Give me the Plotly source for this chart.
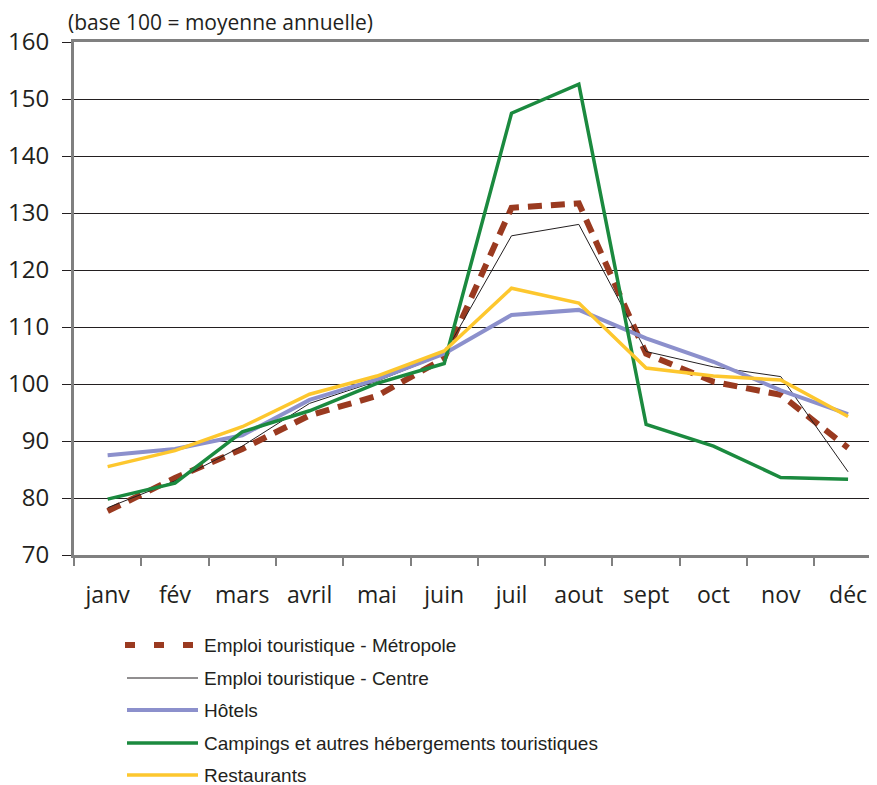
import plotly.graph_objects as go

months = ["janv", "fév", "mars", "avril", "mai", "juin", "juil", "aout", "sept", "oct", "nov", "déc"]
metropole = [77.7, 83.5, 88.6, 94.5, 97.9, 104.5, 130.9, 131.7, 105.3, 100.4, 98.1, 88.8]
centre = [78.3, 83.0, 89.1, 96.6, 100.5, 105.2, 126.0, 128.0, 105.7, 103.0, 101.3, 84.6]
hotels = [87.5, 88.6, 91.0, 97.2, 100.8, 105.3, 112.1, 113.0, 108.0, 103.9, 98.9, 94.7]
campings = [79.8, 82.6, 91.6, 95.3, 100.1, 103.6, 147.5, 152.6, 92.9, 89.1, 83.6, 83.3]
restaurants = [85.5, 88.3, 92.5, 98.2, 101.4, 105.8, 116.8, 114.2, 102.8, 101.4, 100.7, 94.3]
y_ticks = [70, 80, 90, 100, 110, 120, 130, 140, 150, 160]

series = [
    ("Emploi touristique - Métropole", metropole, "#9a3a20", 6, "14px,9px"),
    ("Emploi touristique - Centre", centre, "#231f20", 1, "solid"),
    ("Hôtels", hotels, "#8c90cc", 4, "solid"),
    ("Campings et autres hébergements touristiques", campings, "#1b8a3f", 3.5, "solid"),
    ("Restaurants", restaurants, "#fdc72e", 3.5, "solid"),
]

# page has an 8px body margin; target coordinates are page pixels
OFF = 8
W, H = 877 - OFF, 785 - OFF
ML, MR, MT = 74 - OFF, 0, 42 - OFF
MB = H - (555 - OFF)
PW, PH = W - ML - MR, H - MT - MB

def px(x):
    return (x - OFF - ML) / PW

def py(y):
    return (H - MB - (y - OFF)) / PH

fig = go.Figure()
for name, vals, color, width, dash in series:
    fig.add_trace(go.Scatter(
        x=months, y=vals, mode="lines", name=name,
        line=dict(color=color, width=width, dash=dash),
        showlegend=False, hoverinfo="skip",
    ))

# custom legend
legend_y = [645, 678, 710, 743, 775]
shapes = []
annotations = []
for (name, vals, color, width, dash), ly in zip(series, legend_y):
    ldash = "10px,19px" if dash != "solid" else "solid"
    lw = width if width < 5 else 6
    shapes.append(dict(type="line", xref="paper", yref="paper",
                       x0=px(127 if dash == "solid" else 125), x1=px(198 if dash == "solid" else 196),
                       y0=py(ly), y1=py(ly),
                       line=dict(color=color, width=lw, dash=ldash)))
    annotations.append(dict(text=name, xref="paper", yref="paper",
                            x=px(202), y=py(ly), xanchor="left", yanchor="middle",
                            showarrow=False,
                            font=dict(family="Liberation Sans, Arial", size=19, color="#231f20")))

annotations.append(dict(text="(base 100 = moyenne annuelle)", xref="paper", yref="paper",
                        x=px(66), y=py(22), xanchor="left", yanchor="middle", showarrow=False,
                        font=dict(family="Open Sans", size=21, color="#231f20")))

fig.update_layout(
    width=W, height=H,
    margin=dict(l=ML, r=MR, t=MT, b=MB, autoexpand=False),
    paper_bgcolor="white", plot_bgcolor="white",
    shapes=shapes, annotations=annotations,
    showlegend=False,
    xaxis=dict(
        type="category", range=[-0.5, 11.43],
        tickson="boundaries", ticks="outside", ticklen=8, tickcolor="#808080", tickwidth=1.5,
        showline=True, linecolor="#808080", linewidth=3, mirror=True,
        showgrid=False, zeroline=False,
        tickfont=dict(family="Open Sans", size=23, color="#231f20"),
        ticklabelstandoff=17,
    ),
    yaxis=dict(
        range=[70, 160], tickvals=y_ticks,
        ticks="outside", ticklen=9, tickcolor="#231f20", tickwidth=1,
        showline=True, linecolor="#808080", linewidth=3,
        showgrid=True, gridcolor="#231f20", gridwidth=1.2, zeroline=False,
        tickfont=dict(family="Open Sans", size=24, color="#231f20"),
        ticklabelstandoff=8,
    ),
)

fig.write_html("out.html")
